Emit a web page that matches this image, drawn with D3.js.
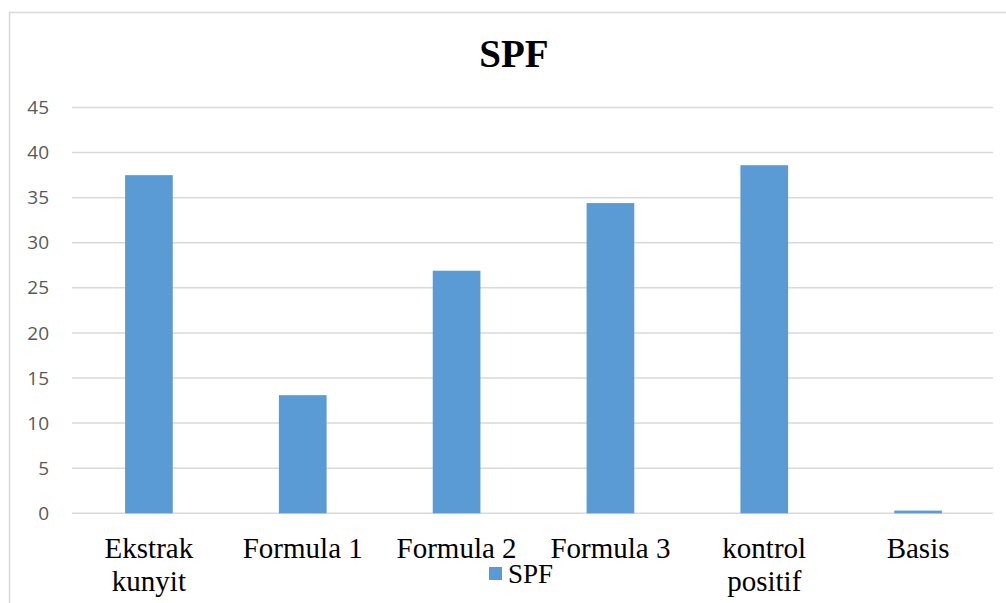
<!DOCTYPE html>
<html><head><meta charset="utf-8">
<script src="https://cdn.jsdelivr.net/npm/d3@7"></script>
<style>body{margin:0;background:#fff}
svg text.sf, svg text.sf tspan{font-family:"Liberation Serif",serif !important;}
svg g.yax text{font-family:"Open Sans","Liberation Sans",sans-serif !important;}
</style>
</head><body>
<svg id="c" width="1006" height="603"></svg>
<script>
const categories = [["Ekstrak","kunyit"],["Formula 1"],["Formula 2"],["Formula 3"],["kontrol","positif"],["Basis"]];
const values = [37.5, 13.1, 26.9, 34.4, 38.6, 0.3];
const yTicks = [0,5,10,15,20,25,30,35,40,45];
const seriesName = "SPF";
const title = "SPF";

const SERIF = '"Liberation Serif", serif';
const svg = d3.select("#c");
const color = "#5B9BD5";
const grid = "#D9D9D9";
const m = {left:72, right:995, top:107.5, bottom:513.3};

svg.append("rect").attr("x",9.5).attr("y",12.5).attr("width",1010).attr("height",620)
  .attr("fill","none").attr("stroke",grid).attr("stroke-width",1.5);

const x = d3.scaleBand().domain(categories.map((d,i)=>i)).range([m.left,m.right]).paddingInner(0.69).paddingOuter(0.345);
const y = d3.scaleLinear().domain([0,45]).range([m.bottom,m.top]);

svg.append("g").selectAll("line").data(yTicks).join("line")
  .attr("x1",m.left).attr("x2",m.right-2).attr("y1",d=>y(d)).attr("y2",d=>y(d))
  .attr("stroke",grid).attr("stroke-width",1.5);

svg.append("g").selectAll("rect").data(values).join("rect")
  .attr("x",(d,i)=>x(i)).attr("width",x.bandwidth())
  .attr("y",d=>y(d)).attr("height",d=>y(0)-y(d)).attr("fill",color);

const lg = svg.append("g");
categories.forEach((lines,i)=>{
  lines.forEach((t,j)=>{
    lg.append("text").attr("class","sf").attr("x",x(i)+x.bandwidth()/2).attr("y",m.bottom+45+j*33)
      .attr("text-anchor","middle").style("font-family",SERIF,"important").style("font-size","29px","important")
      .attr("fill","#000").text(t);
  });
});

svg.append("text").attr("class","sf").attr("x",514).attr("y",67).attr("text-anchor","middle")
  .style("font-family",SERIF,"important").style("font-weight","bold").style("font-size","39px","important").text(title);

svg.append("rect").attr("x",489).attr("y",567).attr("width",13).attr("height",13).attr("fill",color);
svg.append("text").attr("class","sf").attr("x",508).attr("y",583)
  .style("font-family",SERIF,"important").style("font-size","27px","important").text(seriesName);

const ga = svg.append("g").attr("class","yax").attr("transform",`translate(${m.left-23},0)`)
  .call(d3.axisLeft(y).tickValues(yTicks).tickSize(0).tickPadding(0));
ga.select(".domain").remove();
ga.selectAll("text").style("font-size","19px","important").attr("fill","#595959");
</script>
</body></html>
